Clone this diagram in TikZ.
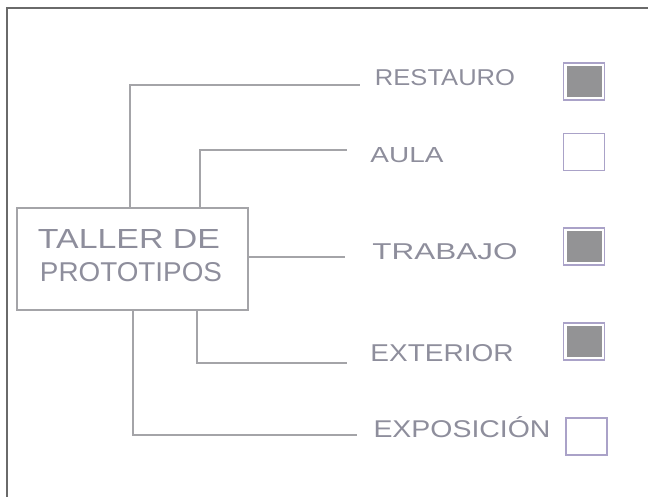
\documentclass[tikz,border=0pt]{standalone}
\usepackage{fontspec}
\usepackage{graphicx}
\setmainfont{Liberation Sans}
\definecolor{sketch}{HTML}{8E8E9C}
\definecolor{linegray}{HTML}{A4A4A8}
\definecolor{lav}{HTML}{AAA2C8}
\definecolor{fillgray}{HTML}{939395}
\definecolor{frame}{HTML}{6A6A6A}
\tikzset{
  conn/.style={draw=linegray, line width=1.3pt},
  lbl/.style={inner sep=0pt, text=sketch},
  mainbox/.style={draw=linegray, line width=1.6pt, minimum width=231pt, minimum height=102pt, inner sep=0pt},
  sqempty/.style={draw=lav, line width=1.4pt, fill=white, minimum width=41pt, minimum height=37pt, inner sep=0pt},
  sqfull/.style={sqempty, path picture={\fill[fillgray] ([xshift=3pt,yshift=-3pt]path picture bounding box.north west) rectangle ([xshift=-3pt,yshift=3pt]path picture bounding box.south east);}}
}
\newcommand{\lab}[3]{\resizebox{#1}{#2}{#3}}
\begin{document}
\begin{tikzpicture}[x=1pt,y=-1pt]
\useasboundingbox (0,0) rectangle (648,497);
% frame (top and left)
\draw[frame, line width=2pt] (7,497) -- (7,8) -- (648,8);

% central box
\node[mainbox] (taller) at (132.5,259) {};
\node[lbl] (t1) at (129,239) {\lab{182pt}{19pt}{TALLER DE}};
\node[lbl] (t2) at (131,272) {\lab{182pt}{19pt}{PROTOTIPOS}};

% labels
\node[lbl] (restauro) at (445,78) {\lab{140pt}{16pt}{RESTAURO}};
\node[lbl] (aula) at (407,155) {\lab{73pt}{15pt}{AULA}};
\node[lbl] (trabajo) at (445,252) {\lab{145pt}{16pt}{TRABAJO}};
\node[lbl] (exterior) at (442,353) {\lab{143pt}{17pt}{EXTERIOR}};
\node[lbl, anchor=south] (exposicion) at (462,438) {\lab{177pt}{21pt}{EXPOSICIÓN}};

% end points of connectors
\coordinate (e1) at (360,85);
\coordinate (e2) at (347,150);
\coordinate (e3) at (345,257);
\coordinate (e4) at (347,363);
\coordinate (e5) at (357,435);

% connectors
\draw[conn] (taller.north -| 130,0) |- (e1);
\draw[conn] (taller.north -| 200,0) |- (e2);
\draw[conn] (taller.east |- e3) -- (e3);
\draw[conn] (taller.south -| 197,0) |- (e4);
\draw[conn] (taller.south -| 133,0) |- (e5);

% squares
\node[sqfull] (s1) at (584,81.5) {};
\node[sqempty] (s2) at (584,152) {};
\node[sqfull] (s3) at (584,246.5) {};
\node[sqfull] (s4) at (584,341.5) {};
\node[sqempty] (s5) at (586.5,436.5) {};
\end{tikzpicture}
\end{document}
